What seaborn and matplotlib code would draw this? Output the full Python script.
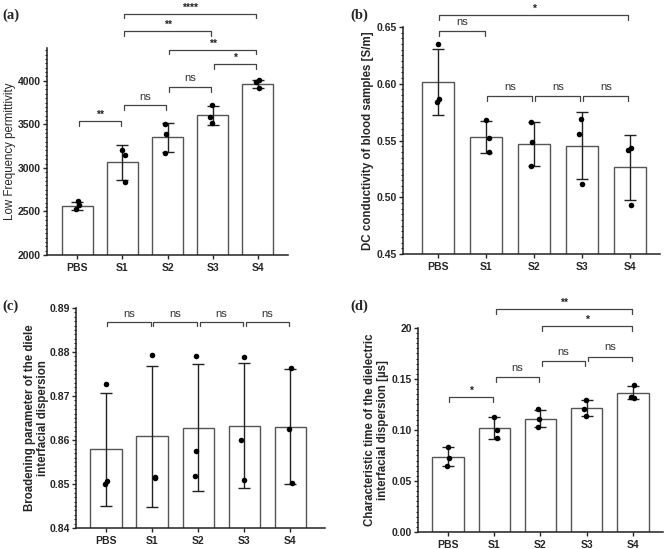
import numpy as np
import pandas as pd
import seaborn as sns
import matplotlib.pyplot as plt
from matplotlib.ticker import MultipleLocator, FixedLocator, FixedFormatter

groups = ['PBS', 'S1', 'S2', 'S3', 'S4']

# (a) low frequency permittivity
perm_mean = [2565, 3065, 3350, 3602, 3962]
perm_sd = [45, 200, 170, 105, 45]
perm_pts = [[2617, 2575, 2525], [3203, 3153, 2835], [3502, 3383, 3172],
            [3720, 3586, 3510], [4010, 3980, 3920]]

# (b) DC conductivity
cond_mean = [0.6015, 0.5534, 0.5470, 0.5455, 0.5265]
cond_sd = [0.0287, 0.0140, 0.0193, 0.0297, 0.0288]
cond_pts = [[0.6350, 0.5866, 0.5839], [0.5678, 0.5522, 0.5396], [0.5660, 0.5484, 0.5272],
            [0.5689, 0.5560, 0.5120], [0.5435, 0.5420, 0.4930]]

# (c) broadening parameter
broad_mean = [0.8579, 0.8608, 0.8628, 0.8632, 0.8630]
broad_sd = [0.0128, 0.0160, 0.0144, 0.0142, 0.0131]
broad_pts = [[0.8728, 0.8506, 0.8501], [0.8794, 0.8516, 0.8513], [0.8792, 0.8574, 0.8519],
             [0.8789, 0.8601, 0.8510], [0.8763, 0.8625, 0.8502]]

# (d) characteristic time
tau_mean = [0.0738, 0.1018, 0.1112, 0.1213, 0.1364]
tau_sd = [0.0095, 0.0108, 0.0087, 0.0077, 0.0064]
tau_pts = [[0.0837, 0.0725, 0.0647], [0.1130, 0.1003, 0.0918], [0.1203, 0.1105, 0.1033],
           [0.1294, 0.1203, 0.1140], [0.1438, 0.1322, 0.1310]]

# significance brackets: (from, to, height, label)
perm_sig = [(0, 1, 3540, '**'), (1, 2, 3720, 'ns'), (2, 3, 3931, 'ns'), (3, 4, 4192, '*'),
            (2, 4, 4356, '**'), (1, 3, 4567, '**'), (1, 4, 4770, '****')]
cond_sig = [(0, 4, 0.6608, '*'), (0, 1, 0.6461, 'ns'), (1, 2, 0.5889, 'ns'),
            (2, 3, 0.5889, 'ns'), (3, 4, 0.5889, 'ns')]
broad_sig = [(0, 1, 0.8868, 'ns'), (1, 2, 0.8868, 'ns'), (2, 3, 0.8868, 'ns'), (3, 4, 0.8868, 'ns')]
tau_sig = [(0, 1, 0.1324, '*'), (1, 2, 0.152, 'ns'), (2, 3, 0.1673, 'ns'), (3, 4, 0.172, 'ns'),
           (2, 4, 0.2017, '*'), (1, 4, 0.2186, '**')]

sns.set_style('ticks')
plt.rcParams['font.family'] = ['Liberation Sans', 'DejaVu Sans']

fig = plt.figure(figsize=(6.69, 5.49), dpi=100)


def panel(rect, means, sds, pts, sig, ylim, xlim, major, minor, ylabel, labx, drop, gap,
          lab_bold=True):
    ax = fig.add_axes(rect)
    sns.barplot(x=groups, y=means, color='white', edgecolor='#555555', linewidth=1,
                width=0.68, ax=ax, zorder=1)
    ax.errorbar(range(len(groups)), means, yerr=sds, fmt='none', ecolor='#222222',
                elinewidth=1, capsize=4.5, capthick=1, zorder=3)
    df = pd.DataFrame({'group': np.repeat(groups, 3), 'value': np.concatenate(pts)})
    np.random.seed(3)
    sns.stripplot(data=df, x='group', y='value', order=groups, color='black', size=4,
                  jitter=0.07, ax=ax, zorder=4)
    for x1, x2, y, txt in sig:
        a, b = x1 + 0.03, x2 - 0.03
        ax.plot([a, a, b, b], [y - drop, y, y, y - drop], color='#444444', lw=0.9,
                clip_on=False, zorder=5)
        if txt == 'ns':
            ax.text((a + b) / 2, y + gap, txt, ha='center', va='bottom', fontsize=8,
                    color='#333333', clip_on=False)
        else:
            ax.text((a + b) / 2, y + gap * 0.3, txt, ha='center', va='bottom', fontsize=7.5,
                    fontweight='bold', color='#222222', clip_on=False)
    ax.set_ylim(*ylim)
    ax.set_xlim(*xlim)
    ax.yaxis.set_major_locator(MultipleLocator(major))
    ax.yaxis.set_minor_locator(MultipleLocator(minor))
    ax.tick_params(axis='y', which='major', length=3, width=1, labelsize=7.5, pad=1.5)
    ax.tick_params(axis='y', which='minor', length=1.5, width=0.8)
    ax.tick_params(axis='x', length=3, width=1, labelsize=7.5, pad=3)
    ax.set_xlabel('')
    ax.set_ylabel(ylabel, fontsize=8.3, fontweight='bold' if lab_bold else 'normal',
                  va='center', linespacing=1.1)
    ax.yaxis.set_label_coords(labx, 0.5)
    for s in ['left', 'bottom']:
        ax.spines[s].set_linewidth(1.1)
        ax.spines[s].set_color('#222222')
    sns.despine(ax=ax)
    return ax


ax_a = panel([0.0703, 0.5355, 0.3602, 0.377], perm_mean, perm_sd, perm_pts, perm_sig,
             (2000, 4375), (-0.67, 4.67), 500, 50, 'Low Frequency permittivity', -0.155,
             55, 40, lab_bold=False)
ax_b = panel([0.6024, 0.5373, 0.3842, 0.4135], cond_mean, cond_sd, cond_pts, cond_sig,
             (0.45, 0.65), (-0.73, 4.63), 0.05, 0.005,
             'DC conductivity of blood samples [S/m]', -0.138, 0.0042, 0.0035)
ax_b.yaxis.set_major_formatter(plt.FormatStrFormatter('%.2f'))
ax_c = panel([0.1136, 0.0383, 0.3722, 0.4007], broad_mean, broad_sd, broad_pts, broad_sig,
             (0.84, 0.89), (-0.65, 4.75), 0.01, 0.001,
             'Broadening parameter of the diele\ninterfacial dispersion', -0.16, 0.0008, 0.0006)
ax_c.yaxis.set_major_formatter(plt.FormatStrFormatter('%.2f'))
ax_d = panel([0.6248, 0.031, 0.3662, 0.3716], tau_mean, tau_sd, tau_pts, tau_sig,
             (0, 0.20), (-0.65, 4.65), 0.05, 0.005,
             'Characteristic time of the dielectric\ninterfacial dispersion [\u00b5s]', -0.17,
             0.0045, 0.004)
ax_d.yaxis.set_major_locator(FixedLocator([0, 0.05, 0.10, 0.15, 0.20]))
ax_d.yaxis.set_major_formatter(FixedFormatter(['0.00', '0.05', '0.10', '0.15', '20']))

for ax in [ax_a, ax_b, ax_c, ax_d]:
    for t in ax.get_xticklabels() + ax.get_yticklabels():
        t.set_fontweight('bold')

for x, y, lab in [(0.004, 0.985, '(a)'), (0.524, 0.985, '(b)'),
                  (0.004, 0.455, '(c)'), (0.524, 0.455, '(d)')]:
    fig.text(x, y, lab, ha='left', va='top', fontsize=10.5, fontweight='bold',
             family=['Liberation Serif', 'DejaVu Serif'])

fig.savefig('out.png', dpi=100)
